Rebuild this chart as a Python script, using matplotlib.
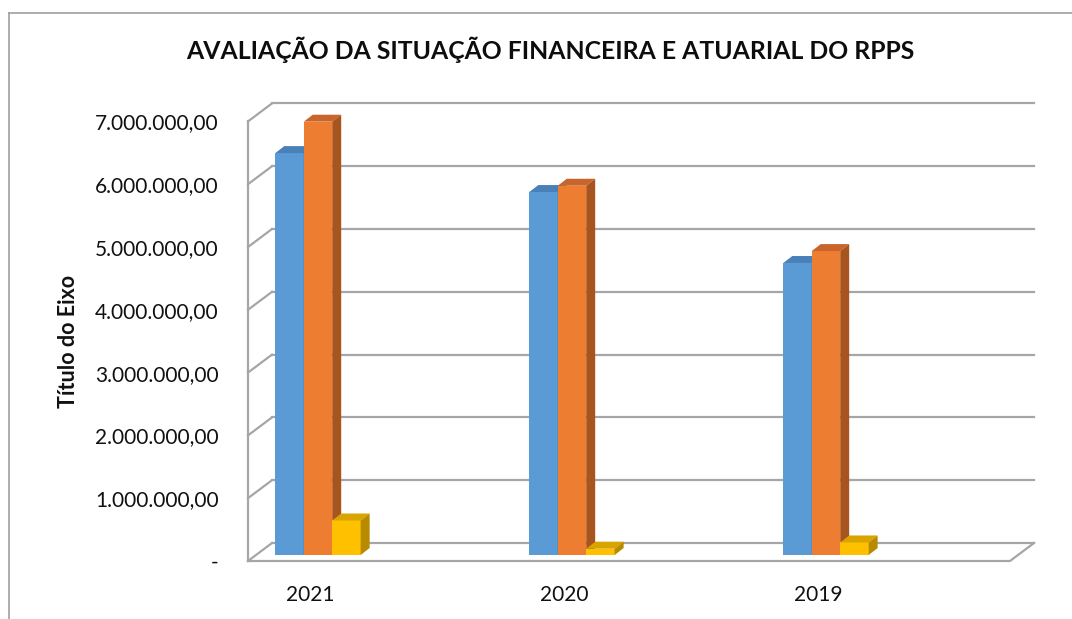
import matplotlib as mpl
mpl.use('Agg')
import matplotlib.pyplot as plt
from matplotlib.patches import Polygon
from matplotlib.lines import Line2D

plt.rcParams['font.family'] = ['Lato', 'DejaVu Sans']

# dados (valores em milhoes)
anos = ['2021', '2020', '2019']
serie_azul = [6.40, 5.78, 4.65]
serie_laranja = [6.90, 5.88, 4.84]
serie_amarela = [0.55, 0.10, 0.20]
y_ticks = [0, 1, 2, 3, 4, 5, 6, 7]
y_labels = ['-', '1.000.000,00', '2.000.000,00', '3.000.000,00',
            '4.000.000,00', '5.000.000,00', '6.000.000,00', '7.000.000,00']

frentes = ['#5b9bd5', '#ed7d31', '#ffc000']
topos = ['#4a80b8', '#c9652a', '#d9a300']
lados = ['#3f6e9f', '#a8541f', '#b88a00']

W, H = 1072, 619
fig = plt.figure(figsize=(W / 100, H / 100), dpi=100)

# area do plano frontal em pixels
px_l, px_r, px_b, px_t = 248, 1010, 561, 121.4
ax = fig.add_axes([px_l / W, (H - px_b) / H, (px_r - px_l) / W, (px_b - px_t) / H])
x0, x1 = -0.244, 2.756
ax.set_xlim(x0, x1)
ax.set_ylim(0, 7)

# profundidade 3D (em unidades de dados)
dx, dy = 0.0945, 0.2866
grid_c = '#a6a6a6'
lw = 1.6

# parede de fundo (linhas de grade) e parede lateral
for v in y_ticks:
    ax.plot([x0 + dx, x1 + dx], [v + dy, v + dy], color=grid_c, lw=lw, clip_on=False, zorder=1)
    ax.plot([x0, x0 + dx], [v, v + dy], color=grid_c, lw=lw, clip_on=False, zorder=1)
ax.plot([x0, x0], [0, 7], color=grid_c, lw=lw, clip_on=False, zorder=1)
# piso
ax.plot([x0, x1, x1 + dx], [0, 0, dy], color=grid_c, lw=lw, clip_on=False, zorder=1)

# barras
largura = 0.112
base = dy / 3
desl = dx / 3
sdx, sdy = 0.0354, 0.111
series = [serie_azul, serie_laranja, serie_amarela]
z = 2
for i in range(len(anos)):
    for k, serie in enumerate(series):
        xc = i + desl + (k - 1) * largura
        v = serie[i]
        ax.bar(xc, v, largura, bottom=base, color=frentes[k], linewidth=0,
               zorder=z, clip_on=False)
        xl, xr, top = xc - largura / 2, xc + largura / 2, base + v
        ax.add_patch(Polygon([(xl, top), (xr, top), (xr + sdx, top + sdy), (xl + sdx, top + sdy)],
                             closed=True, facecolor=topos[k], lw=0, zorder=z, clip_on=False))
        ax.add_patch(Polygon([(xr, base), (xr, top), (xr + sdx, top + sdy), (xr + sdx, base + sdy)],
                             closed=True, facecolor=lados[k], lw=0, zorder=z, clip_on=False))
        z += 1

for s in ax.spines.values():
    s.set_visible(False)
ax.set_xticks(range(len(anos)))
ax.set_xticklabels(anos)
ax.set_yticks(y_ticks)
ax.set_yticklabels(y_labels)
ax.tick_params(axis='both', length=0, labelsize=15, colors='#111111')
ax.tick_params(axis='y', pad=21)
ax.tick_params(axis='x', pad=17)
ax.set_ylabel('Título do Eixo', fontsize=15.5, fontweight='bold', color='#111111', labelpad=12)
ax.patch.set_visible(False)

fig.text(550 / W, 1 - 50 / H, 'AVALIAÇÃO DA SITUAÇÃO FINANCEIRA E ATUARIAL DO RPPS',
         ha='center', va='center', fontsize=17.8, fontweight='bold', color='#0d0d0d')

# borda da area do grafico
fig.add_artist(Line2D([9 / W, 9 / W], [0, 1 - 13 / H], color='#a0a0a0', lw=1.2))
fig.add_artist(Line2D([9 / W, 1], [1 - 13 / H, 1 - 13 / H], color='#a0a0a0', lw=1.2))

fig.savefig('out.png', dpi=100)
